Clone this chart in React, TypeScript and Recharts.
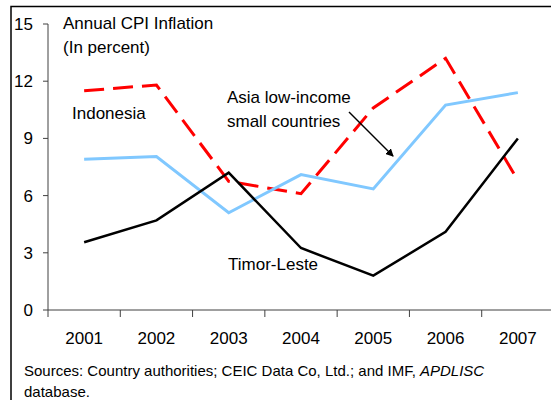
import React from "react";
import { LineChart, Line, XAxis, YAxis } from "recharts";

const years = ["2001", "2002", "2003", "2004", "2005", "2006", "2007"];
const indonesia = [11.5, 11.8, 6.75, 6.1, 10.6, 13.2, 6.8];
const asiaLowIncome = [7.9, 8.05, 5.1, 7.1, 6.35, 10.75, 11.4];
const timorLeste = [3.55, 4.7, 7.2, 3.25, 1.8, 4.1, 9.0];
const yTicks = [0, 3, 6, 9, 12, 15];
const boundaryTicks = [0, 1, 2, 3, 4, 5, 6, 7];

const data = years.map((year, i) => ({
  year,
  idx: i + 0.5,
  indonesia: indonesia[i],
  asia: asiaLowIncome[i],
  timor: timorLeste[i],
}));

const font = "Arial, 'Liberation Sans', Helvetica, sans-serif";
const axisColor = "#404040";

const EmptyTick = () => <g />;

const App: React.FC = () => {
  return (
    <div
      style={{
        position: "absolute",
        left: 0,
        top: 0,
        width: 551,
        height: 400,
        overflow: "hidden",
        background: "#fff",
        fontFamily: font,
      }}
    >
      <LineChart
        width={560}
        height={400}
        data={data}
        margin={{ top: 24, right: 6, bottom: 60, left: 0 }}
      >
        <XAxis
          xAxisId="a-grid"
          type="number"
          dataKey="idx"
          domain={[0, 7]}
          ticks={boundaryTicks}
          tick={<EmptyTick />}
          interval={0}
          height={2}
          tickSize={7}
          stroke={axisColor}
          allowDataOverflow
        />
        <XAxis
          xAxisId="b-years"
          dataKey="year"
          scale="band"
          height={28}
          axisLine={false}
          tickLine={false}
          tickSize={0}
          tickMargin={20}
          interval={0}
          tick={{ fontSize: 17, fill: "#000", fontFamily: font }}
        />
        <YAxis
          domain={[0, 15]}
          ticks={yTicks}
          width={48}
          tickSize={5}
          tickMargin={10}
          stroke={axisColor}
          tick={{ fontSize: 17, fill: "#000", fontFamily: font }}
        />
        <Line
          xAxisId="a-grid"
          dataKey="indonesia"
          stroke="#ff0000"
          strokeWidth={3}
          strokeDasharray="20 9"
          dot={false}
          type="linear"
          isAnimationActive={false}
        />
        <Line
          xAxisId="a-grid"
          dataKey="asia"
          stroke="#80c8ff"
          strokeWidth={3}
          dot={false}
          type="linear"
          isAnimationActive={false}
        />
        <Line
          xAxisId="a-grid"
          dataKey="timor"
          stroke="#000"
          strokeWidth={2.5}
          dot={false}
          type="linear"
          isAnimationActive={false}
        />
      </LineChart>
      <svg
        width={551}
        height={400}
        style={{ position: "absolute", left: 0, top: 0, pointerEvents: "none" }}
      >
        <defs>
          <marker
            id="arrowHead"
            markerWidth="8"
            markerHeight="8"
            refX="7"
            refY="4"
            orient="auto"
            markerUnits="userSpaceOnUse"
          >
            <path d="M0,0 L8,4 L0,8 z" fill="#000" />
          </marker>
        </defs>
        <path d="M11,400 L11,6.5 L551,6.5" fill="none" stroke="#000" strokeWidth={1.5} />
        <g fontFamily={font} fontSize={17} fill="#000">
          <text x={63} y={29}>Annual CPI Inflation</text>
          <text x={63} y={53}>(In percent)</text>
          <text x={72} y={119}>Indonesia</text>
          <text x={227} y={103}>Asia low-income</text>
          <text x={227} y={127}>small countries</text>
          <text x={228} y={270}>Timor-Leste</text>
        </g>
        <line
          x1={349}
          y1={112}
          x2={393}
          y2={156}
          stroke="#000"
          strokeWidth={1.5}
          markerEnd="url(#arrowHead)"
        />
        <g fontFamily={font} fontSize={15} fill="#000">
          <text x={24} y={376}>
            Sources: Country authorities; CEIC Data Co, Ltd.; and IMF,{" "}
            <tspan fontStyle="italic">APDLISC</tspan>
          </text>
          <text x={24} y={397}>database.</text>
        </g>
      </svg>
    </div>
  );
};

export default App;
